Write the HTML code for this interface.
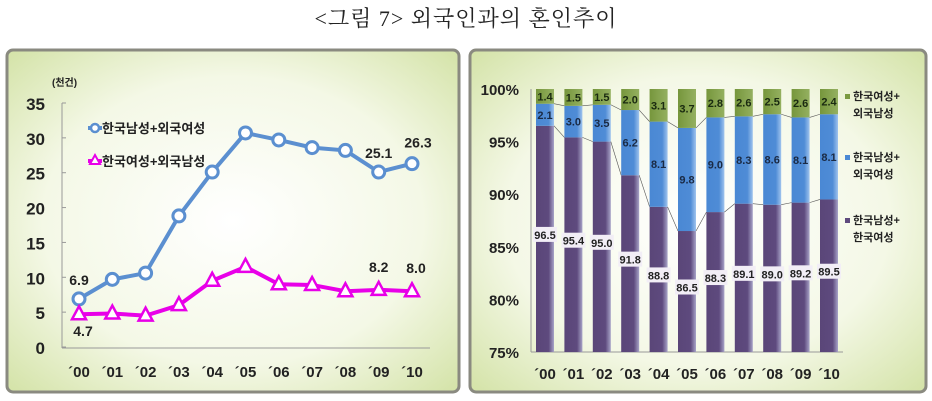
<!DOCTYPE html>
<html><head><meta charset="utf-8"><style>
body{margin:0;background:#fff;width:932px;height:401px;overflow:hidden;font-family:"Liberation Sans","Noto Sans CJK KR",sans-serif}
.title{position:absolute;left:0;width:932px;top:2px;text-align:center;font-family:"Liberation Serif","Noto Serif CJK SC",serif;font-size:22px;color:#222;letter-spacing:1px}
svg{position:absolute;left:0;top:0}
</style></head><body>
<div class="title">&lt;그림 7&gt; 외국인과의 혼인추이</div>
<svg width="932" height="401">
<defs>
<radialGradient id="bg" cx="50%" cy="50%" r="70%"><stop offset="0" stop-color="#ffffff"/><stop offset="0.6" stop-color="#f4f8e6"/><stop offset="1" stop-color="#d4e3a8"/></radialGradient>
<linearGradient id="gp" x1="0" x2="1"><stop offset="0" stop-color="#5a4678"/><stop offset="0.7" stop-color="#5e4a7e"/><stop offset="1" stop-color="#a8a4c8"/></linearGradient>
<linearGradient id="gb" x1="0" x2="1"><stop offset="0" stop-color="#4a88d4"/><stop offset="0.7" stop-color="#4f8cd6"/><stop offset="1" stop-color="#a0c4ee"/></linearGradient>
<linearGradient id="gg" x1="0" x2="1"><stop offset="0" stop-color="#76963c"/><stop offset="1" stop-color="#94b060"/></linearGradient>
</defs>
<rect x="7" y="50" width="452" height="342" rx="6" fill="url(#bg)" stroke="#8a8a80" stroke-width="3"/>
<rect x="470" y="50" width="456" height="342" rx="6" fill="url(#bg)" stroke="#8a8a80" stroke-width="3"/>
<g id="left"></g><g id="right"></g>
</svg>
<script>
const years=["´00","´01","´02","´03","´04","´05","´06","´07","´08","´09","´10"];
const blueVals=[6.9,9.7,10.6,18.8,25.1,30.7,29.7,28.6,28.2,25.1,26.3];
const pinkVals=[4.7,4.8,4.5,6.0,9.5,11.5,9.0,8.9,8.0,8.2,8.0];
const yTicks=[0,5,10,15,20,25,30,35];
const purpleShare=[96.5,95.4,95.0,91.8,88.8,86.5,88.3,89.1,89.0,89.2,89.5];
const blueShare=[2.1,3.0,3.5,6.2,8.1,9.8,9.0,8.3,8.6,8.1,8.1];
const greenShare=[1.4,1.5,1.5,2.0,3.1,3.7,2.8,2.6,2.5,2.6,2.4];
const pctTicks=[75,80,85,90,95,100];
const NS="http://www.w3.org/2000/svg";
function mk(p,t,a,txt){const e=document.createElementNS(NS,t);for(const k in a)e.setAttribute(k,a[k]);if(txt!==undefined)e.textContent=txt;p.appendChild(e);return e;}
// left chart
const L=document.getElementById('left');
const lx=i=>79+i*33.3, ly=v=>347-v*(244/35);
mk(L,'line',{x1:62,y1:103,x2:62,y2:348,stroke:'#999'});
mk(L,'line',{x1:62,y1:348,x2:430,y2:348,stroke:'#999'});
yTicks.forEach(t=>{const e=mk(L,'text',{x:45,y:ly(t)+7,'text-anchor':'end','font-size':17,'font-weight':'bold',fill:'#222'},t);

mk(L,'line',{x1:62,y1:ly(t),x2:66,y2:ly(t),stroke:'#999'});});
const u=mk(L,'text',{x:52,y:86,'font-size':10,'font-weight':'bold',fill:'#222'},'(천건)');

years.forEach((y,i)=>{const e=mk(L,'text',{x:lx(i),y:377,'text-anchor':'middle','font-size':15,'font-weight':'bold',fill:'#222'},y);
});
const bl=mk(L,'polyline',{points:blueVals.map((v,i)=>lx(i)+','+ly(v)).join(' '),fill:'none',stroke:'#5b8fd0','stroke-width':4});

blueVals.forEach((v,i)=>{const c=mk(L,'circle',{cx:lx(i),cy:ly(v),r:6,fill:'#fff',stroke:'#5b8fd0','stroke-width':3});
});
const pl=mk(L,'polyline',{points:pinkVals.map((v,i)=>lx(i)+','+ly(v)).join(' '),fill:'none',stroke:'#e800e8','stroke-width':4});

pinkVals.forEach((v,i)=>{const x=lx(i),y=ly(v);const p=mk(L,'polygon',{points:`${x},${y-8} ${x-7},${y+5} ${x+7},${y+5}`,fill:'#fff',stroke:'#e800e8','stroke-width':2.5});
});
[[0,blueVals,-14,0],[9,blueVals,-14,0],[10,blueVals,-16,6],[0,pinkVals,22,4],[9,pinkVals,-18,0],[10,pinkVals,-18,4]].forEach(([i,arr,dy,dx])=>{
const e=mk(L,'text',{x:lx(i)+dx,y:ly(arr[i])+dy,'text-anchor':'middle','font-size':14,'font-weight':'bold',fill:'#222'},arr[i].toFixed(1));
});
mk(L,'line',{x1:88,y1:128,x2:102,y2:128,stroke:'#5b8fd0','stroke-width':4});
mk(L,'circle',{cx:95,cy:128,r:4,fill:'#fff',stroke:'#5b8fd0','stroke-width':2.5});
let e=mk(L,'text',{x:102,y:133,'font-size':13,'font-weight':'bold',fill:'#222'},'한국남성+외국여성');
mk(L,'line',{x1:88,y1:161,x2:102,y2:161,stroke:'#e800e8','stroke-width':4});
mk(L,'polygon',{points:'95,155 90,164 100,164',fill:'#fff',stroke:'#e800e8','stroke-width':2});
e=mk(L,'text',{x:102,y:166,'font-size':13,'font-weight':'bold',fill:'#222'},'한국여성+외국남성');
// right chart
const R=document.getElementById('right');
const rx=i=>545+i*28.4, ry=v=>352-(v-75)*(263/25), bw=18;
pctTicks.forEach(t=>{const e=mk(R,'text',{x:519,y:ry(t)+6,'text-anchor':'end','font-size':15,'font-weight':'bold',fill:'#222'},t+'%');
});
mk(R,'line',{x1:531,y1:89,x2:531,y2:352,stroke:'#999'});
mk(R,'line',{x1:531,y1:352,x2:843,y2:352,stroke:'#999'});
years.forEach((y,i)=>{const x=rx(i)-bw/2;
const p=purpleShare[i],b=blueShare[i];
let r=mk(R,'rect',{x:x,y:ry(p),width:bw,height:352-ry(p),fill:'url(#gp)'});
r=mk(R,'rect',{x:x,y:ry(p+b),width:bw,height:ry(p)-ry(p+b),fill:'url(#gb)'});
r=mk(R,'rect',{x:x,y:ry(100),width:bw,height:ry(p+b)-ry(100),fill:'url(#gg)'});
if(i<10){mk(R,'line',{x1:x+bw,y1:ry(p),x2:rx(i+1)-bw/2,y2:ry(purpleShare[i+1]),stroke:'#555','stroke-width':0.6});
mk(R,'line',{x1:x+bw,y1:ry(p+b),x2:rx(i+1)-bw/2,y2:ry(purpleShare[i+1]+blueShare[i+1]),stroke:'#555','stroke-width':0.6});}
const ym=(ry(p)+352)/2-4;
mk(R,'rect',{x:rx(i)-12,y:ym-8,width:24,height:15,fill:'#f2eef6'});
let t=mk(R,'text',{x:rx(i),y:ym+4,'text-anchor':'middle','font-size':11,'font-weight':'bold',fill:'#222'},p.toFixed(1));
t=mk(R,'text',{x:rx(i),y:(ry(p)+ry(p+b))/2+4,'text-anchor':'middle','font-size':11,'font-weight':'bold',fill:'#1a2a44'},b.toFixed(1));
t=mk(R,'text',{x:rx(i),y:(ry(p+b)+ry(100))/2+4,'text-anchor':'middle','font-size':11,'font-weight':'bold',fill:'#1a2a10'},greenShare[i].toFixed(1));
t=mk(R,'text',{x:rx(i),y:379,'text-anchor':'middle','font-size':15,'font-weight':'bold',fill:'#222'},y);
});
[[100,'#7a9a40','한국여성+','외국남성'],[161,'#4a88d4','한국남성+','외국여성'],[224,'#5e4a7e','한국남성+','한국여성']].forEach(([y,c,a,b])=>{
mk(R,'rect',{x:845,y:y-6,width:5,height:5,fill:c});
let t=mk(R,'text',{x:853,y:y,'font-size':11,'font-weight':'bold',fill:'#222'},a);
mk(R,'text',{x:853,y:y+17,'font-size':11,'font-weight':'bold',fill:'#222'},b);});
</script>
</body></html>
